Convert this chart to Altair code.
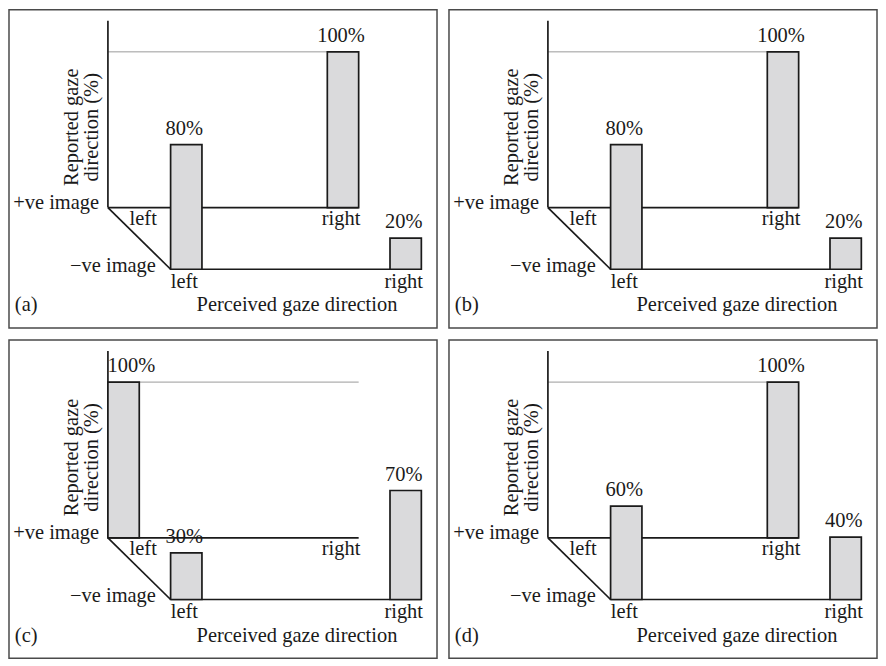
import altair as alt
import pandas as pd

# ---------------- data ----------------
panel_tags = ["(a)", "(b)", "(c)", "(d)"]
back_left = [0, 0, 100, 0]      # +ve image, perceived left
back_right = [100, 100, 0, 100]  # +ve image, perceived right
front_left = [80, 80, 30, 60]    # -ve image, perceived left
front_right = [20, 20, 70, 40]   # -ve image, perceived right
row_labels = ["+ve image", "\u2212ve image"]
col_labels = ["left", "right"]
x_title = "Perceived gaze direction"
y_title = ["Reported gaze", "direction (%)"]

# ---------------- layout (reference pixel units inside one panel) ----------------
REF_W, REF_H = 437, 325
PW, PH = 429, 319
AX = 101      # x of vertical axis
BW = 32       # bar width
RX = 224      # offset of "right" column from axis
DX = 64       # depth offset (x) of front row
DYPX = 63     # depth offset (y, px) of front row
BASE = 202    # pixel y of back baseline
K = 1.59      # px per percent


def pct(py):
    return (BASE - py) / K


DEPTH = DYPX / K
YTOP, YBOT = pct(0), pct(REF_H)
FONT = "'Liberation Serif', 'Times New Roman', Times, serif"
FS = 20.5
INK = "#1a1a1a"

xs = alt.Scale(domain=[0, REF_W], nice=False, zero=False)
ys = alt.Scale(domain=[YBOT, YTOP], nice=False, zero=False)


def X(f="x"):
    return alt.X(f"{f}:Q", scale=xs, axis=None)


def Y(f="y"):
    return alt.Y(f"{f}:Q", scale=ys, axis=None)


def panel(i):
    bars = []
    specs = [
        (back_left[i], AX, 0.0, "bl"),
        (back_right[i], AX + RX, 0.0, "br"),
        (front_left[i], AX + DX, -DEPTH, "fl"),
        (front_right[i], AX + DX + RX, -DEPTH, "fr"),
    ]
    for order, (v, x0, b, key) in enumerate(specs):
        if v > 0:
            shift = 8 if key == "bl" else -2
            bars.append(dict(x=x0, x2=x0 + BW, y=b, y2=b + v, o=order,
                             lx=x0 + BW / 2 + shift, text=f"{v}%"))
    bars_df = pd.DataFrame(bars)

    black = pd.DataFrame([
        dict(x=AX, y=0, x2=AX, y2=120),
        dict(x=AX, y=0, x2=AX + RX + BW, y2=0),
        dict(x=AX, y=0, x2=AX + DX, y2=-DEPTH),
        dict(x=AX + DX, y=-DEPTH, x2=AX + DX + RX + BW, y2=-DEPTH),
    ])
    gray = pd.DataFrame([dict(x=AX, y=100, x2=AX + RX + BW, y2=100)])

    right_txt = pd.DataFrame([
        dict(x=AX - 9, y=pct(203), text=row_labels[0]),
        dict(x=150, y=pct(268), text=row_labels[1]),
    ])
    center_txt = pd.DataFrame([
        dict(x=137, y=pct(220), text=col_labels[0]),
        dict(x=AX + RX + BW / 2 - 2, y=pct(220), text=col_labels[1]),
        dict(x=AX + DX + BW / 2 - 2, y=pct(284), text=col_labels[0]),
        dict(x=AX + DX + RX + BW / 2 - 2, y=pct(284), text=col_labels[1]),
        dict(x=294, y=pct(308), text=x_title),
    ])
    left_txt = pd.DataFrame([dict(x=6, y=pct(308), text=panel_tags[i])])
    rot_txt = pd.DataFrame([
        dict(x=70, y=pct(120), text=y_title[0]),
        dict(x=91, y=pct(120), text=y_title[1]),
    ])

    tkw = dict(font=FONT, fontSize=FS, color=INK, baseline="alphabetic")

    layers = [
        alt.Chart(gray).mark_rule(color="#9a9a9a", strokeWidth=1).encode(
            x=X(), y=Y(), x2="x2:Q", y2="y2:Q"),
        alt.Chart(black).mark_rule(color=INK, strokeWidth=1.7).encode(
            x=X(), y=Y(), x2="x2:Q", y2="y2:Q"),
        alt.Chart(bars_df).mark_rect(fill="#dadadc", stroke=INK, strokeWidth=1.7).encode(
            x=X(), x2="x2:Q", y=Y(), y2="y2:Q", order="o:Q"),
        alt.Chart(bars_df).mark_text(align="center", dy=-10, **tkw).encode(
            x=X("lx"), y=Y("y2"), text="text:N"),
        alt.Chart(right_txt).mark_text(align="right", **tkw).encode(
            x=X(), y=Y(), text="text:N"),
        alt.Chart(center_txt).mark_text(align="center", **tkw).encode(
            x=X(), y=Y(), text="text:N"),
        alt.Chart(left_txt).mark_text(align="left", **tkw).encode(
            x=X(), y=Y(), text="text:N"),
        alt.Chart(rot_txt).mark_text(align="center", angle=270, **tkw).encode(
            x=X(), y=Y(), text="text:N"),
    ]
    return alt.layer(*layers).properties(width=PW, height=PH)


top = alt.hconcat(panel(0), panel(1), spacing=10)
bottom = alt.hconcat(panel(2), panel(3), spacing=10)
chart = alt.vconcat(top, bottom, spacing=10).properties(
    padding=0, background="white"
).configure_view(stroke="#4a4a4a", strokeWidth=1.5)

chart.save("out.html", embed_options={"renderer": "svg", "actions": False})
